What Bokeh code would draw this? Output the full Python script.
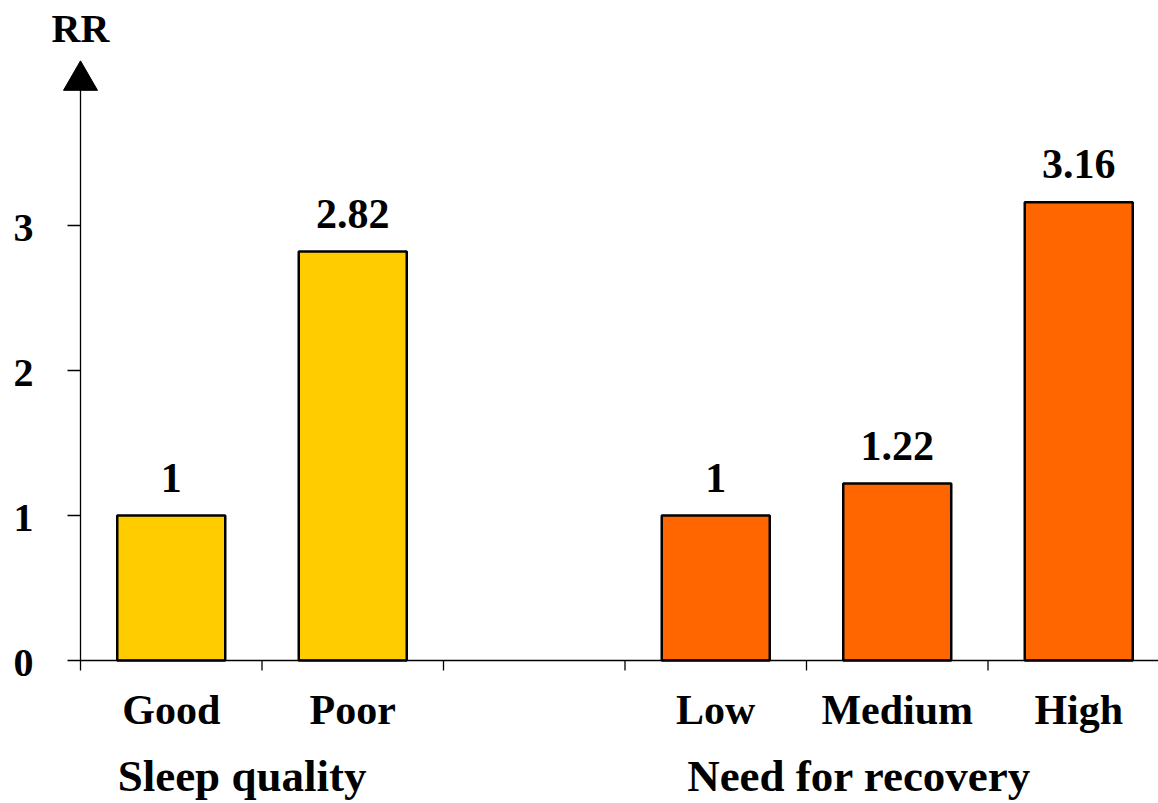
from bokeh.plotting import figure
from bokeh.models import Range1d, FixedTicker, LinearAxis, ColumnDataSource
from bokeh.core.properties import value
from bokeh.embed import file_html
from bokeh.resources import INLINE

# ---- data ----
categories = ["Good", "Poor", "Low", "Medium", "High"]
groups = ["Sleep quality", "Sleep quality", "Need for recovery", "Need for recovery", "Need for recovery"]
rr = [1, 2.82, 1, 1.22, 3.16]
rr_labels = ["1", "2.82", "1", "1.22", "3.16"]
slot = [0.5, 1.5, 3.5, 4.5, 5.5]          # category slot centres (slot 2.5 is an empty gap)
bar_colors = ["#FFCC00", "#FFCC00", "#FF6600", "#FF6600", "#FF6600"]
group_names = ["Sleep quality", "Need for recovery"]
group_pos = [0.89, 4.29]
y_ticks = [0, 1, 2, 3]
y_tick_labels = ["0", "1", "2", "3"]
slot_edges = [0, 1, 2, 3, 4, 5]
y_label = "RR"

FONT = "'Liberation Serif', 'Times New Roman', Times, serif"

# ---- layout constants (pixels) ----
W, H = 1158, 803
AX_X = 80            # pixel position of the y axis
ZERO_Y = 660         # pixel position of RR = 0
FRAME_BOTTOM = 682   # frame extends a little below RR = 0 so the "0" label is not clipped
SLOT_PX = 181.5      # width of one category slot
UNIT_PX = 145        # pixels per RR unit
AXIS_TOP = 4.0       # top of the y axis (arrow head position)

x_start = -AX_X / SLOT_PX
x_end = (W - AX_X) / SLOT_PX
y_start = -(FRAME_BOTTOM - ZERO_Y) / UNIT_PX
y_end = ZERO_Y / UNIT_PX
ytick_len = 13 / SLOT_PX
xtick_len = 10 / UNIT_PX

src = ColumnDataSource(dict(x=slot, top=rr, color=bar_colors, lab=rr_labels, cat=categories))
ysrc = ColumnDataSource(dict(y=y_ticks, lab=y_tick_labels,
                             x0=[0] * len(y_ticks), x1=[-ytick_len] * len(y_ticks)))
xsrc = ColumnDataSource(dict(x=slot_edges, y0=[0] * len(slot_edges),
                             y1=[-xtick_len] * len(slot_edges)))

p = figure(width=W, height=H, output_backend="svg", toolbar_location=None,
           x_range=Range1d(x_start, x_end), y_range=Range1d(y_start, y_end),
           min_border_left=0, min_border_top=0, min_border_bottom=H - FRAME_BOTTOM,
           min_border_right=0)
p.outline_line_color = None
p.grid.grid_line_color = None
p.xaxis.visible = False
p.yaxis.visible = False
p.background_fill_color = "white"

# bars and value labels
p.vbar(x="x", top="top", bottom=0, width=0.595, fill_color="color", line_color="black",
       line_width=2.5, source=src)
p.text(x="x", y="top", text="lab", source=src, text_align="center", text_baseline="middle",
       y_offset=-38, text_font=value(FONT), text_font_style="bold", text_font_size="42px",
       text_color="black")

# x axis line at RR = 0 and tick marks at slot edges
p.segment(x0=[0], y0=[0], x1=[x_end], y1=[0], line_color="black", line_width=1.3)
p.segment(x0="x", y0="y0", x1="x", y1="y1", source=xsrc, line_color="black", line_width=1.3)

# y axis (line, ticks, labels, arrow head, title)
p.segment(x0=[0], y0=[0], x1=[0], y1=[AXIS_TOP], line_color="black", line_width=1.3)
p.segment(x0="x0", y0="y", x1="x1", y1="y", source=ysrc, line_color="black", line_width=1.3)
p.text(x="x0", y="y", text="lab", source=ysrc, text_align="right", text_baseline="middle",
       x_offset=-47, y_offset=2, text_font=value(FONT), text_font_style="bold",
       text_font_size="40px", text_color="black")
p.scatter(x=[0], y=[AXIS_TOP], marker="triangle", size=34, fill_color="black",
          line_color="black")
p.text(x=[0], y=[AXIS_TOP], text=[y_label], text_align="center", text_baseline="middle",
       y_offset=-52, text_font=value(FONT), text_font_style="bold", text_font_size="40px",
       text_color="black")

# category labels at slot centres
xax = LinearAxis(ticker=FixedTicker(ticks=slot, minor_ticks=[]))
xax.major_label_overrides = {s: c for s, c in zip(slot, categories)}
xax.axis_line_color = None
xax.major_tick_out = 0
xax.major_tick_in = 0
xax.minor_tick_out = 0
xax.minor_tick_in = 0
xax.major_label_standoff = 4
xax.major_label_text_font = FONT
xax.major_label_text_font_style = "bold"
xax.major_label_text_font_size = "42px"
xax.major_label_text_color = "black"
p.add_layout(xax, "below")

# group labels
gax = LinearAxis(ticker=FixedTicker(ticks=group_pos, minor_ticks=[]))
gax.major_label_overrides = {s: g for s, g in zip(group_pos, group_names)}
gax.axis_line_color = None
gax.major_tick_out = 0
gax.major_tick_in = 0
gax.minor_tick_out = 0
gax.major_label_standoff = 15
gax.major_label_text_font = FONT
gax.major_label_text_font_style = "bold"
gax.major_label_text_font_size = "45px"
gax.major_label_text_color = "black"
p.add_layout(gax, "below")

open("out.html", "w").write(file_html(p, INLINE))
